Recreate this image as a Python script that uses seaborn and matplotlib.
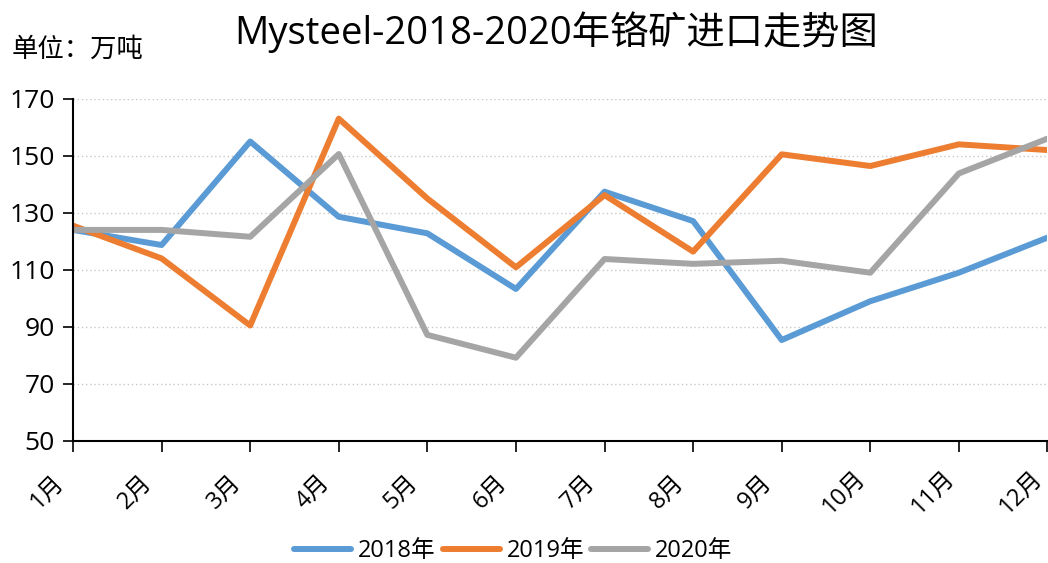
import pandas as pd
import matplotlib
matplotlib.use('Agg')
import matplotlib.pyplot as plt
import matplotlib.transforms as mtransforms
import seaborn as sns

# datos (万吨)
months = ['1月', '2月', '3月', '4月', '5月', '6月', '7月', '8月', '9月', '10月', '11月', '12月']
years = ['2018年', '2019年', '2020年']
v2018 = [124, 118.7, 155, 128.6, 122.8, 103.3, 137.4, 127.1, 85.4, 99, 109, 121.3]
v2019 = [125.5, 114, 90.5, 163, 135, 110.9, 136.2, 116.4, 150.5, 146.4, 154, 152]
v2020 = [124, 124, 121.6, 150.6, 87.2, 79.2, 113.8, 112.1, 113.2, 109, 143.8, 156]
colors = ['#5B9BD5', '#ED7D31', '#A5A5A5']

df = pd.DataFrame({
    'mes': months * 3,
    'anio': [y for y in years for _ in months],
    'valor': v2018 + v2019 + v2020,
})

sns.set_style('white')
plt.rcParams['font.family'] = ['Open Sans', 'Noto Sans CJK SC', 'DejaVu Sans']
plt.rcParams['text.color'] = 'black'
plt.rcParams['xtick.color'] = 'black'
plt.rcParams['ytick.color'] = 'black'

fig = plt.figure(figsize=(10.48, 5.63), dpi=100)
ax = fig.add_axes([73 / 1048, 1 - 441 / 563, 1 - 73 / 1048 - 0.0005, (441 - 98.7) / 563])

sns.lineplot(data=df, x='mes', y='valor', hue='anio', palette=colors,
             sort=False, linewidth=4.3, ax=ax, legend=True)

ax.set_ylim(50, 170)
ax.set_yticks(range(50, 171, 20))
ax.set_xlim(0, len(months) - 1)
ax.set_xlabel('')
ax.set_ylabel('')
ax.yaxis.grid(True, linestyle=(0, (1, 2)), color='#C8C8C8', linewidth=1)
ax.set_axisbelow(True)

for s in ['top', 'right']:
    ax.spines[s].set_visible(False)
for s in ['left', 'bottom']:
    ax.spines[s].set_color('black')
    ax.spines[s].set_linewidth(1.5)

ax.tick_params(axis='y', left=True, length=7, width=1.2, colors='black', labelsize=19, pad=6)
ax.tick_params(axis='x', bottom=True, length=8, width=1.2, colors='black', labelsize=17, pad=0)

# etiquetas del eje x giradas y desplazadas (centro abajo a la izquierda del tick)
offset = mtransforms.ScaledTranslation(-26 / 100, -40 / 100, fig.dpi_scale_trans)
for lab in ax.get_xticklabels():
    lab.set_rotation(45)
    lab.set_ha('center')
    lab.set_va('center')
    lab.set_rotation_mode('anchor')
    lab.set_transform(lab.get_transform() + offset)

ax.get_legend().remove()
handles, labels = ax.get_legend_handles_labels()
leg = fig.legend(handles, labels, loc='center', ncol=3, frameon=False, fontsize=17,
                 handlelength=2.4, handletextpad=0.3, columnspacing=0.3)
leg.set_bbox_to_anchor((0.49, 1 - 551 / 563), transform=fig.transFigure)
for t in leg.get_texts():
    t.set_color('black')

fig.text(556 / 1048, 1 - 32 / 563, 'Mysteel-2018-2020年铬矿进口走势图',
         ha='center', va='center', fontsize=27.5, color='black')
fig.text(12 / 1048, 1 - 50 / 563, '单位：万吨', ha='left', va='center', fontsize=19, color='black')

plt.savefig('out.png', dpi=100)
